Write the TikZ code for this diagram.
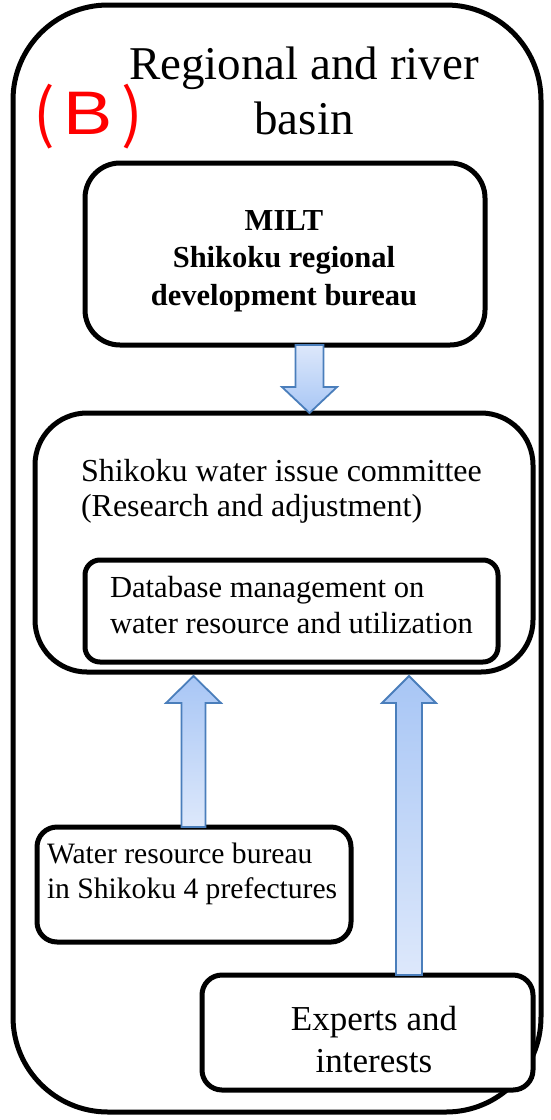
\documentclass[tikz,border=0pt]{standalone}
\usepackage{fontspec}
\usepackage{graphicx}
\setmainfont{Liberation Serif}
\newfontfamily\sansf{Liberation Sans}
\newfontfamily\cjkp[CharacterWidth=Proportional]{Noto Sans CJK JP}
\usetikzlibrary{calc}
\definecolor{arrowline}{HTML}{4A7EBB}
\definecolor{arrowlight}{HTML}{DDE8FB}
\definecolor{arrowdark}{HTML}{A8C6F5}
\definecolor{labelred}{HTML}{FF0000}
\newcommand\blockarr[6]{%
  \path[#6] ($(#1)+(-#4,0)$) -- ($(#2)+(-#4,#3)$) -- ($(#2)+(-#5,#3)$) -- (#2)
    -- ($(#2)+(#5,#3)$) -- ($(#2)+(#4,#3)$) -- ($(#1)+(#4,0)$) -- cycle;}
\newcommand\bigparen[1]{\raisebox{-2pt}{\cjkp\fontsize{64}{64}\selectfont #1}}
\tikzset{
  box/.style={draw=black, line width=5pt, fill=white, rounded corners=#1,
    inner sep=0pt, outer sep=0pt},
  blkarrow/.style={draw=arrowline, line width=1.8pt, line join=miter},
  downshade/.style={blkarrow, top color=arrowlight, bottom color=arrowdark},
  upshade/.style={blkarrow, top color=arrowdark, bottom color=arrowlight},
  txt/.style={inner sep=0pt, outer sep=0pt},
}
\begin{document}
\begin{tikzpicture}[x=1pt, y=-1pt]
\useasboundingbox (0,0) rectangle (551,1120);
% outer frame
\node[box=95pt, minimum width=528pt, minimum height=1107pt] (outer) at (277,558.5) {};
\node[txt, anchor=base, font=\fontsize{47}{57}\selectfont] (title1) at (304,79) {Regional and river};
\node[txt, anchor=base, font=\fontsize{47}{57}\selectfont] (title2) at (304,134) {basin};
\node[txt, anchor=base west, text=labelred] (lab) at (63.4,134)
  {\llap{\bigparen{（}\kern8.4pt}\scalebox{1.2}[1]{\sansf\fontsize{61.5}{62}\selectfont B}\rlap{\kern8.9pt\bigparen{）}}};
% MILT box
\node[box=35pt, minimum width=400pt, minimum height=182pt] (milt) at (285,254) {};
\node[txt, anchor=base, font=\fontsize{30.5}{37}\selectfont\bfseries] (milt1) at (284,230) {MILT};
\node[txt, anchor=base, font=\fontsize{30.5}{37}\selectfont\bfseries] (milt2) at (284,267) {Shikoku regional};
\node[txt, anchor=base, font=\fontsize{30.5}{37}\selectfont\bfseries] (milt3) at (284,305) {development bureau};
% committee box
\node[box=52pt, minimum width=498pt, minimum height=259pt] (comm) at (284,542.5) {};
\node[txt, anchor=base west, font=\fontsize{32}{36}\selectfont] (comm1) at (81,481) {Shikoku water issue committee};
\node[txt, anchor=base west, font=\fontsize{32}{36}\selectfont] (comm2) at (81,516) {(Research and adjustment)};
% database box
\node[box=15pt, minimum width=413pt, minimum height=102pt] (db) at (291.5,611) {};
\node[txt, anchor=base west, font=\fontsize{30.6}{36}\selectfont] (db1) at (110,597) {Database management on};
\node[txt, anchor=base west, font=\fontsize{30.6}{36}\selectfont] (db2) at (110,633) {water resource and utilization};
% water resource box
\node[box=20pt, minimum width=314pt, minimum height=115pt] (water) at (194,884.5) {};
\node[txt, anchor=base west, font=\fontsize{29.6}{35}\selectfont] (water1) at (47,863) {Water resource bureau};
\node[txt, anchor=base west, font=\fontsize{29.6}{35}\selectfont] (water2) at (47,898) {in Shikoku 4 prefectures};
% experts box
\node[box=20pt, minimum width=331pt, minimum height=115pt] (exp) at (367.5,1032.5) {};
\node[txt, anchor=base, font=\fontsize{35}{42}\selectfont] (exp1) at (374,1030) {Experts and};
\node[txt, anchor=base, font=\fontsize{35}{42}\selectfont] (exp2) at (374,1072) {interests};
% arrows
\coordinate (xa) at (309.5,0);
\coordinate (xb) at (193.5,0);
\coordinate (xc) at (409,0);
\coordinate (a0) at (xa |- milt.south);
\coordinate (a1) at (xa |- comm.north);
\coordinate (b0) at (xb |- water.north);
\coordinate (b1) at ($(xb |- comm.south)+(0,4)$);
\coordinate (c0) at (xc |- exp.north);
\coordinate (c1) at ($(xc |- comm.south)+(0,4)$);
\blockarr{a0}{a1}{-26}{14}{27.5}{downshade}
\blockarr{b0}{b1}{27}{12}{27.5}{upshade}
\blockarr{c0}{c1}{27}{13}{27}{upshade}
\end{tikzpicture}
\end{document}
